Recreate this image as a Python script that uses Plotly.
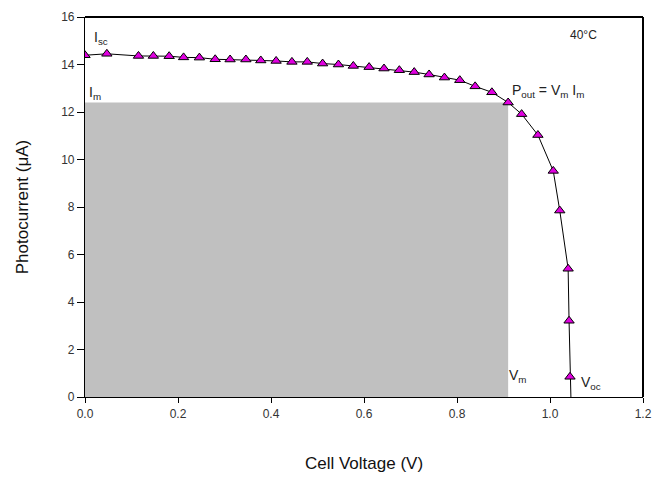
import plotly.graph_objects as go

# Measured I-V curve at 40 °C
voltage = [0.000, 0.047, 0.115, 0.147, 0.181, 0.212, 0.246, 0.280, 0.312, 0.346,
           0.378, 0.411, 0.445, 0.478, 0.511, 0.545, 0.577, 0.611, 0.643, 0.676,
           0.708, 0.740, 0.773, 0.806, 0.839, 0.875, 0.910, 0.939, 0.974, 1.007,
           1.021, 1.039, 1.041, 1.043]
current = [14.39, 14.45, 14.36, 14.36, 14.35, 14.30, 14.29, 14.22, 14.21, 14.21,
           14.17, 14.15, 14.11, 14.11, 14.04, 14.00, 13.94, 13.89, 13.83, 13.76,
           13.68, 13.58, 13.45, 13.34, 13.08, 12.83, 12.40, 11.91, 11.03, 9.52,
           7.85, 5.40, 3.21, 0.85]

# Open-circuit end of the curve (line only, no marker)
v_oc = 1.045
i_oc = 0.0

# Maximum power point
v_m = 0.91
i_m = 12.40

x_ticks = [0.0, 0.2, 0.4, 0.6, 0.8, 1.0, 1.2]
x_tick_text = ["0.0", "0.2", "0.4", "0.6", "0.8", "1.0", "1.2"]
y_ticks = [0, 2, 4, 6, 8, 10, 12, 14, 16]

fig = go.Figure()

# Power rectangle Vm x Im
fig.add_shape(type="rect", xref="x", yref="y", x0=0, x1=v_m, y0=0, y1=i_m,
              fillcolor="#c0c0c0", line=dict(width=0), layer="below")

fig.add_trace(go.Scatter(
    x=voltage + [v_oc], y=current + [i_oc], mode="lines",
    line=dict(color="black", width=1), hoverinfo="skip", showlegend=False))

fig.add_trace(go.Scatter(
    x=voltage, y=current, mode="markers",
    marker=dict(symbol="triangle-up", size=9, color="#e000e0",
                line=dict(color="black", width=1)),
    showlegend=False))

font_ann = dict(family="Liberation Sans, Arial, sans-serif", size=14, color="#222222")
annotations = [
    dict(x=0.015, y=15.1, text="I<sub>sc</sub>", xanchor="left"),
    dict(x=0.004, y=12.8, text="I<sub>m</sub>", xanchor="left"),
    dict(x=0.915, y=12.9, text="P<sub>out</sub> = V<sub>m</sub> I<sub>m</sub>", xanchor="left"),
    dict(x=0.908, y=0.88, text="V<sub>m</sub>", xanchor="left"),
    dict(x=1.063, y=0.6, text="V<sub>oc</sub>", xanchor="left"),
]
for a in annotations:
    fig.add_annotation(xref="x", yref="y", yanchor="middle", showarrow=False,
                       font=font_ann, **a)
fig.add_annotation(xref="x", yref="y", x=1.039, y=15.23, text="40°C",
                   xanchor="left", yanchor="middle", showarrow=False,
                   font=dict(family="Liberation Sans, Arial, sans-serif", size=12,
                             color="#222222"))

# Top and right frame lines
fig.add_shape(type="line", xref="paper", yref="paper", x0=0, x1=1, y0=1, y1=1,
              line=dict(color="black", width=2))
fig.add_shape(type="line", xref="paper", yref="paper", x0=1, x1=1, y0=0, y1=1,
              line=dict(color="black", width=2))

tick_font = dict(family="Liberation Sans, Arial, sans-serif", size=12, color="#333333")
title_font = dict(family="Liberation Sans, Arial, sans-serif", size=17, color="#111111")

fig.update_layout(
    width=652, height=477,
    margin=dict(l=85, r=9, t=17, b=80, autoexpand=False),
    paper_bgcolor="white", plot_bgcolor="white",
    xaxis=dict(range=[0, 1.2], tickvals=x_ticks, ticktext=x_tick_text,
               showgrid=False, zeroline=False, showline=True, linecolor="black",
               linewidth=1.2, ticks="outside", ticklen=5, tickcolor="black",
               automargin=False, tickfont=tick_font,
               title=dict(text="Cell Voltage (V)", font=title_font, standoff=37)),
    yaxis=dict(range=[0, 16], tickvals=y_ticks, showgrid=False, zeroline=False,
               showline=True, linecolor="black", linewidth=1.2, ticks="outside",
               ticklen=7, tickcolor="black", tickfont=tick_font, automargin=False,
               title=dict(text="Photocurrent (μA)", font=title_font, standoff=28)),
)

fig.write_html("out.html")
